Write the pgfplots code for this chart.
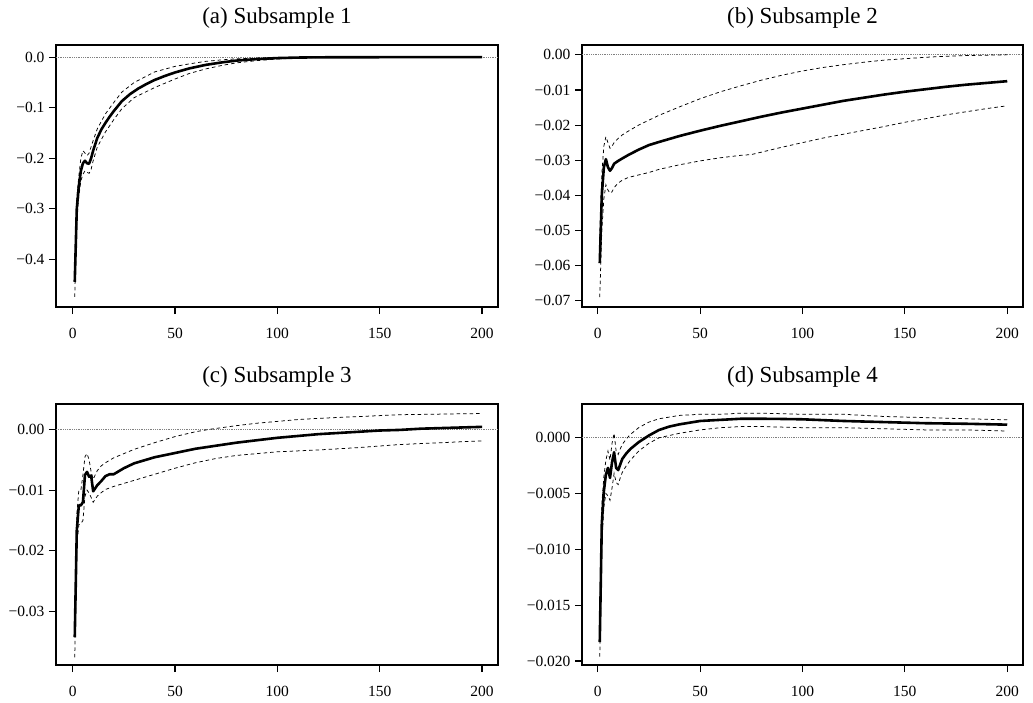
\documentclass[border=0pt]{standalone}
\usepackage{fontspec}
\setmainfont{Liberation Serif}
\usepackage{pgfplots}
\pgfplotsset{compat=1.18}

\pgfplotsset{
  irf/.style={
    scale only axis,
    axis line style={line width=1.2pt},
    tick style={line width=1.1pt, black},
    tick align=outside,
    major tick length=7pt,
    xtick pos=bottom, ytick pos=left,
    xtick={0,50,100,150,200},
    scaled ticks=false,
    tick label style={font=\fontsize{15.5}{18}\selectfont},
    /pgf/number format/assume math mode=true,
    xticklabel style={yshift=-13pt, inner sep=1pt},
    yticklabel style={xshift=-1pt},
    title style={font=\fontsize{23}{26}\selectfont, anchor=base, at={(0.5,1)}, yshift=16pt},
  },
  zero/.style={densely dotted, gray, line width=0.8pt},
  band/.style={black, line width=0.75pt, dash pattern=on 3.5pt off 3pt},
  mainl/.style={black, line width=2.6pt, line join=round},
}

\begin{document}
\begin{tikzpicture}
\path[use as bounding box] (0pt,0pt) rectangle (1033pt,-702pt);

% (a)
\begin{axis}[irf, at={(56pt,-45pt)}, anchor=north west, width=442pt, height=262pt,
  xmin=-8.16, xmax=207.8, ymin=-0.495, ymax=0.0244,
  ytick={-0.4,-0.3,-0.2,-0.1,0}, yticklabels={−0.4,−0.3,−0.2,−0.1,0.0},
  title={(a) Subsample 1}]
\addplot[zero] coordinates {(-8.16,0) (207.8,0)};
\addplot[band] coordinates {(1,-0.415) (2,-0.28) (3,-0.235) (4,-0.20) (5,-0.185) (6,-0.19) (7,-0.195) (8,-0.19) (10,-0.165) (12,-0.142) (16,-0.112) (20,-0.09) (24,-0.069) (30,-0.05) (40,-0.029) (50,-0.018) (57,-0.013) (65,-0.008) (73,-0.005) (80,-0.003) (90,-0.0015) (100,-0.0005) (120,0.0) (160,0.0004) (200,0.0005)};
\addplot[band] coordinates {(1,-0.475) (2,-0.32) (3,-0.275) (4,-0.245) (5,-0.232) (6,-0.225) (7,-0.228) (8,-0.23) (9,-0.222) (10,-0.205) (12,-0.178) (16,-0.148) (20,-0.124) (24,-0.102) (30,-0.08) (40,-0.06) (50,-0.043) (57,-0.032) (65,-0.023) (73,-0.016) (80,-0.011) (90,-0.0065) (100,-0.0035) (110,-0.0015) (120,-0.0005) (140,0) (200,0.0003)};
\addplot[mainl] coordinates {(1,-0.445) (2,-0.30) (3,-0.255) (4,-0.225) (5,-0.21) (6,-0.205) (7,-0.210) (8,-0.211) (9,-0.200) (10,-0.185) (12,-0.160) (14,-0.143) (16,-0.130) (18,-0.118) (20,-0.107) (24,-0.087) (28,-0.073) (32,-0.062) (36,-0.053) (40,-0.045) (45,-0.037) (50,-0.030) (57,-0.022) (65,-0.015) (73,-0.010) (80,-0.0065) (90,-0.0035) (100,-0.0015) (110,-0.0005) (120,0) (160,0.0003) (200,0.0004)};
\end{axis}

% (b)
\begin{axis}[irf, at={(582pt,-45pt)}, anchor=north west, width=441pt, height=262pt,
  xmin=-7.67, xmax=207.7, ymin=-0.0718, ymax=0.0028,
  ytick={-0.07,-0.06,-0.05,-0.04,-0.03,-0.02,-0.01,0}, yticklabels={−0.07,−0.06,−0.05,−0.04,−0.03,−0.02,−0.01,0.00},
  title={(b) Subsample 2}]
\addplot[zero] coordinates {(-7.67,0) (207.7,0)};
\addplot[band] coordinates {(1,-0.052) (2,-0.034) (3,-0.026) (4,-0.0233) (5,-0.025) (6,-0.0266) (7,-0.026) (8,-0.025) (10,-0.0238) (12,-0.0228) (15,-0.0217) (20,-0.0200) (25,-0.0186) (30,-0.0172) (40,-0.0148) (50,-0.0125) (60,-0.0105) (70,-0.0088) (80,-0.0072) (90,-0.0058) (100,-0.0046) (110,-0.0036) (120,-0.0028) (130,-0.0021) (140,-0.0015) (150,-0.0011) (160,-0.0007) (170,-0.0004) (180,-0.0002) (190,-0.0001) (200,0.0000)};
\addplot[band] coordinates {(1,-0.069) (2,-0.050) (3,-0.041) (4,-0.037) (5,-0.0385) (6,-0.0394) (7,-0.039) (8,-0.0378) (10,-0.0365) (12,-0.0357) (15,-0.0349) (20,-0.0342) (25,-0.0335) (30,-0.0326) (40,-0.0313) (50,-0.0302) (60,-0.0293) (70,-0.0286) (75,-0.0284) (80,-0.0277) (90,-0.0263) (100,-0.025) (110,-0.0237) (120,-0.0226) (130,-0.0215) (140,-0.0204) (150,-0.0192) (160,-0.0182) (170,-0.0171) (180,-0.0162) (190,-0.0153) (200,-0.0145)};
\addplot[mainl] coordinates {(1,-0.0593) (2,-0.040) (3,-0.032) (4,-0.0297) (5,-0.032) (6,-0.033) (7,-0.0322) (8,-0.031) (10,-0.0302) (12,-0.0295) (15,-0.0285) (20,-0.0270) (25,-0.0257) (30,-0.0248) (40,-0.0231) (50,-0.0216) (60,-0.0202) (70,-0.0189) (80,-0.0176) (90,-0.0164) (100,-0.0153) (110,-0.0142) (120,-0.0131) (130,-0.0122) (140,-0.0113) (150,-0.0105) (160,-0.0098) (170,-0.0091) (180,-0.0085) (190,-0.0080) (200,-0.0075)};
\end{axis}

% (c)
\begin{axis}[irf, at={(56pt,-404pt)}, anchor=north west, width=442pt, height=261pt,
  xmin=-8.16, xmax=207.8, ymin=-0.03877, ymax=0.00416,
  ytick={-0.03,-0.02,-0.01,0}, yticklabels={−0.03,−0.02,−0.01,0.00},
  title={(c) Subsample 3}]
\addplot[zero] coordinates {(-8.16,0) (207.8,0)};
\addplot[band] coordinates {(1,-0.031) (2,-0.0140) (3,-0.0100) (4,-0.0100) (5,-0.0075) (6,-0.0045) (7,-0.0040) (8,-0.0050) (9,-0.0070) (10,-0.0082) (11,-0.0075) (12,-0.0068) (14,-0.0060) (16,-0.0055) (20,-0.0047) (25,-0.0040) (30,-0.0033) (40,-0.0022) (50,-0.0012) (60,-0.0004) (67,0.0000) (80,0.0006) (90,0.0010) (100,0.0013) (110,0.0016) (120,0.0018) (140,0.0021) (160,0.0024) (180,0.0025) (200,0.0026)};
\addplot[band] coordinates {(1,-0.0375) (2,-0.0190) (3,-0.0157) (4,-0.0155) (5,-0.0150) (6,-0.0110) (7,-0.0100) (8,-0.0105) (9,-0.0112) (10,-0.0120) (11,-0.0115) (12,-0.0110) (14,-0.0104) (16,-0.0099) (20,-0.0094) (25,-0.0089) (30,-0.0084) (40,-0.0074) (50,-0.0064) (60,-0.0055) (70,-0.0048) (80,-0.0043) (90,-0.0040) (100,-0.0037) (120,-0.0034) (140,-0.0030) (160,-0.0025) (180,-0.0022) (200,-0.0019)};
\addplot[mainl] coordinates {(1,-0.0342) (2,-0.0166) (3,-0.0125) (4,-0.0125) (5,-0.0120) (6,-0.0075) (7,-0.0070) (8,-0.0078) (9,-0.0076) (10,-0.0102) (11,-0.0097) (12,-0.0092) (14,-0.0085) (16,-0.0077) (18,-0.0074) (20,-0.0074) (25,-0.0064) (30,-0.0056) (40,-0.0046) (50,-0.0039) (60,-0.0032) (70,-0.0027) (80,-0.0022) (90,-0.0018) (100,-0.0014) (110,-0.0011) (120,-0.0008) (130,-0.0006) (140,-0.0004) (150,-0.0002) (160,-0.0001) (170,0.0001) (180,0.0002) (190,0.0003) (200,0.0004)};
\end{axis}

% (d)
\begin{axis}[irf, at={(582pt,-404pt)}, anchor=north west, width=441pt, height=261pt,
  xmin=-7.67, xmax=207.7, ymin=-0.02036, ymax=0.00302,
  ytick={-0.02,-0.015,-0.01,-0.005,0}, yticklabels={−0.020,−0.015,−0.010,−0.005,0.000},
  title={(d) Subsample 4}]
\addplot[zero] coordinates {(-7.67,0) (207.7,0)};
\addplot[band] coordinates {(1,-0.0170) (2,-0.0060) (3,-0.0035) (4,-0.0020) (5,-0.0012) (6,-0.0020) (7,-0.0005) (8,0.0004) (9,-0.0012) (10,-0.0015) (11,-0.0010) (12,-0.0006) (14,-0.0001) (16,0.0003) (20,0.0009) (25,0.0014) (30,0.0017) (40,0.0020) (50,0.0021) (60,0.0021) (70,0.0022) (80,0.0022) (100,0.0021) (120,0.0021) (140,0.0019) (160,0.0018) (180,0.0017) (200,0.0016)};
\addplot[band] coordinates {(1,-0.0196) (2,-0.0095) (3,-0.0062) (4,-0.0050) (5,-0.0052) (6,-0.0056) (7,-0.0045) (8,-0.0032) (9,-0.0040) (10,-0.0042) (11,-0.0036) (12,-0.0031) (14,-0.0025) (16,-0.0020) (20,-0.0012) (25,-0.0005) (30,0.0000) (40,0.0004) (50,0.0007) (60,0.0009) (70,0.0010) (80,0.0010) (100,0.0009) (120,0.0009) (140,0.0008) (160,0.0007) (180,0.0007) (200,0.0006)};
\addplot[mainl] coordinates {(1,-0.0183) (2,-0.0077) (3,-0.0048) (4,-0.0033) (5,-0.0027) (6,-0.0036) (7,-0.0022) (8,-0.0013) (9,-0.0027) (10,-0.0029) (11,-0.0024) (12,-0.0019) (14,-0.0014) (16,-0.0010) (18,-0.0007) (20,-0.0004) (25,0.0002) (30,0.0007) (35,0.0010) (40,0.0012) (50,0.0015) (60,0.0016) (70,0.0017) (80,0.0017) (90,0.00168) (100,0.00165) (120,0.0015) (140,0.0014) (160,0.0013) (180,0.00125) (200,0.00117)};
\end{axis}
\end{tikzpicture}
\end{document}
